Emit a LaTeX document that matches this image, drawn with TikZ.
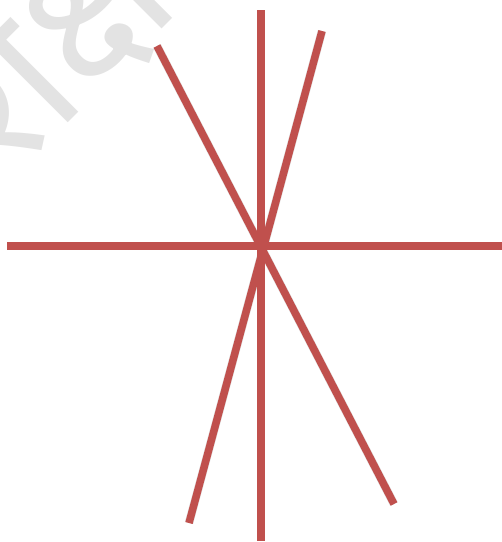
\documentclass[tikz,border=0pt]{standalone}
\usepackage{fontspec}
\newfontfamily\devfont[Script=Devanagari]{Noto Sans}
\definecolor{linered}{RGB}{192,80,77}
\tikzset{
redline/.style={draw=linered,line width=7.5pt},
shadowline/.style={draw=black,opacity=0.12,line width=8.5pt,shift={(1.5,2)}},
watermark/.style={text=black!11,font=\devfont\fontsize{185}{185}\selectfont,rotate=45}}
\begin{document}
\begin{tikzpicture}[x=1pt,y=-1pt]
  \useasboundingbox (0,0) rectangle (502,542);
  \begin{scope}
    \clip (0,0) rectangle (502,542);
    \node[watermark] (wm) at (40,45) {शिक्षा};
  \end{scope}

  % end points of the four lines
  \coordinate (c) at (262,246);
  \coordinate (h1) at (7,246);
  \coordinate (h2) at (502,246);
  \coordinate (v1) at (261,10);
  \coordinate (v2) at (261,541);
  \coordinate (p1) at (157,46);
  \coordinate (p2) at (394,504);
  \coordinate (q1) at (322,31);
  \coordinate (q2) at (189,523);

  \foreach \a/\b in {p1/p2,q1/q2,v1/v2,h1/h2}
    \draw[shadowline] (\a) -- (\b);
  \foreach \a/\b in {p1/p2,q1/q2,v1/v2,h1/h2}
    \draw[redline] (\a) -- (\b);
\end{tikzpicture}
\end{document}
